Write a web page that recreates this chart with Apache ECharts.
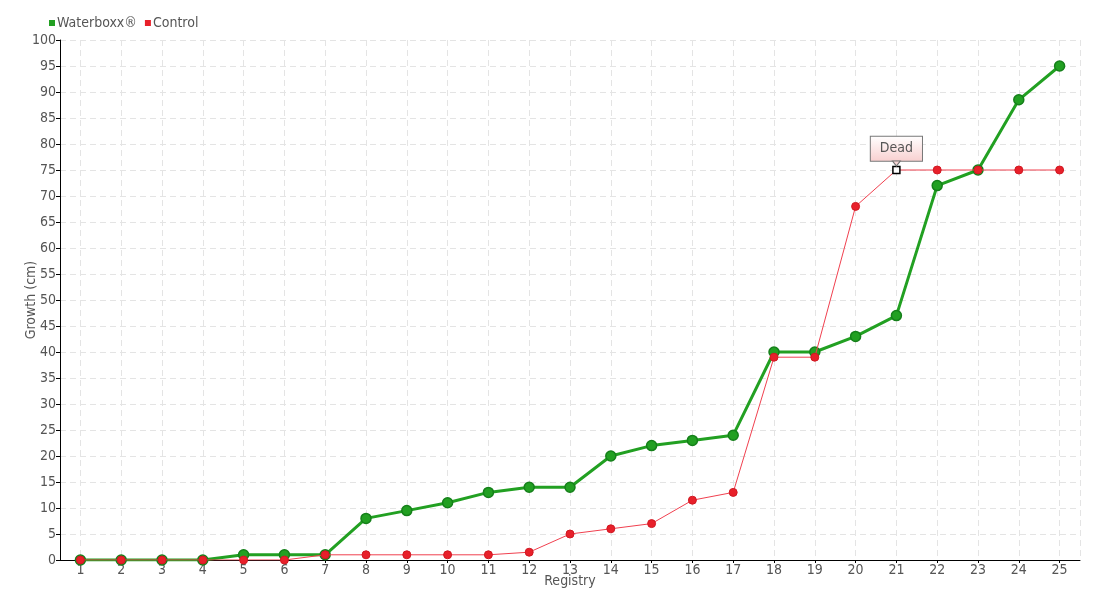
<!DOCTYPE html>
<html><head><meta charset="utf-8">
<script src="https://cdn.jsdelivr.net/npm/echarts@6/dist/echarts.min.js"></script>
<style>html,body{margin:0;padding:0;background:#fff}#c{width:1100px;height:600px}</style>
</head><body><div id="c"></div>
<script>
const registry = [1,2,3,4,5,6,7,8,9,10,11,12,13,14,15,16,17,18,19,20,21,22,23,24,25];
const waterboxx = [0,0,0,0,1,1,1,8,9.5,11,13,14,14,20,22,23,24,40,40,43,47,72,75,88.5,95];
const control = [0,0,0,0,0,0,1,1,1,1,1,1.5,5,6,7,11.5,13,39,39,68,75,75,75,75,75];
const deadIndex = 20;
const deadLabel = 'Dead';

const FONT = 'DejaVu Sans Condensed';
const FS = 14;
const chart = echarts.init(document.getElementById('c'));
const wbData = registry.map((r,i)=>[r, waterboxx[i]]);
const ctData = registry.map((r,i)=>{
  if (i === deadIndex) {
    return {value:[r, control[i]], symbol:'rect', symbolSize:7,
      itemStyle:{color:'#fff', borderColor:'#000', borderWidth:1.5},
      label:{show:true, position:'top', distance:5, formatter:deadLabel,
        fontFamily:FONT, fontSize:FS, color:'#555',
        backgroundColor:{type:'linear',x:0,y:0,x2:0,y2:1,colorStops:[{offset:0,color:'#ffffff'},{offset:1,color:'#f8cfcf'}]},
        borderColor:'#777', borderWidth:1, padding:[5,9,5,9]}};
  }
  return [r, control[i]];
});
chart.setOption({
  animation:false,
  textStyle:{fontFamily:FONT},
  legend:{left:44, top:11, itemWidth:6, itemHeight:6, itemGap:8, icon:'rect',
    textStyle:{fontFamily:FONT, fontSize:FS, color:'#555', padding:[0,0,0,-3]},
    data:[{name:'Waterboxx®', itemStyle:{color:'#22a022', borderWidth:0}},{name:'Control', itemStyle:{color:'#e8202a', borderWidth:0}}]},
  grid:{left:60, right:20, top:40, bottom:40},
  xAxis:{type:'value', min:0.5, max:25.5, splitNumber:25,
    name:'Registry', nameLocation:'middle', nameGap:14, nameMoveOverlap:false,
    nameTextStyle:{fontFamily:FONT, fontSize:FS, color:'#555'},
    axisLine:{lineStyle:{color:'#000', width:1}},
    axisTick:{show:true, length:3, lineStyle:{color:'#000'}},
    axisLabel:{fontFamily:FONT, fontSize:FS, color:'#555', margin:3, showMinLabel:false, showMaxLabel:false,
      formatter:v=> Number.isInteger(v) ? String(v) : ''},
    splitLine:{show:true, lineStyle:{color:'#e4e4e4', type:[6,4], width:1}}},
  yAxis:{type:'value', min:0, max:100, interval:5,
    name:'Growth (cm)', nameLocation:'middle', nameGap:22, nameRotate:90, nameMoveOverlap:false,
    nameTextStyle:{fontFamily:FONT, fontSize:FS, color:'#555'},
    axisLine:{show:true, lineStyle:{color:'#000', width:1}},
    axisTick:{show:true, length:4, lineStyle:{color:'#000'}},
    axisLabel:{fontFamily:FONT, fontSize:FS, color:'#555', margin:4},
    splitLine:{show:true, lineStyle:{color:'#e4e4e4', type:[6,4], width:1}}},
  series:[
    {name:'Waterboxx®', type:'line', data:wbData, symbol:'circle', symbolSize:10,
     lineStyle:{color:'#22a022', width:3},
     itemStyle:{color:'#22a022', borderColor:'#15801a', borderWidth:1.5}, z:2},
    {name:'Control', type:'line', data:ctData, symbol:'circle', symbolSize:8,
     lineStyle:{color:'#f0404f', width:1},
     itemStyle:{color:'#e8202a', borderColor:'#d01822', borderWidth:1}, z:3,
     markPoint:{silent:true, symbol:'triangle', symbolRotate:180, symbolSize:[8,5], symbolOffset:[0,-6.5],
       itemStyle:{color:'#f8d6d6', borderColor:'#777', borderWidth:1}, label:{show:false},
       data:[{coord:[registry[deadIndex], control[deadIndex]]}]}}
  ]
});
</script></body></html>
